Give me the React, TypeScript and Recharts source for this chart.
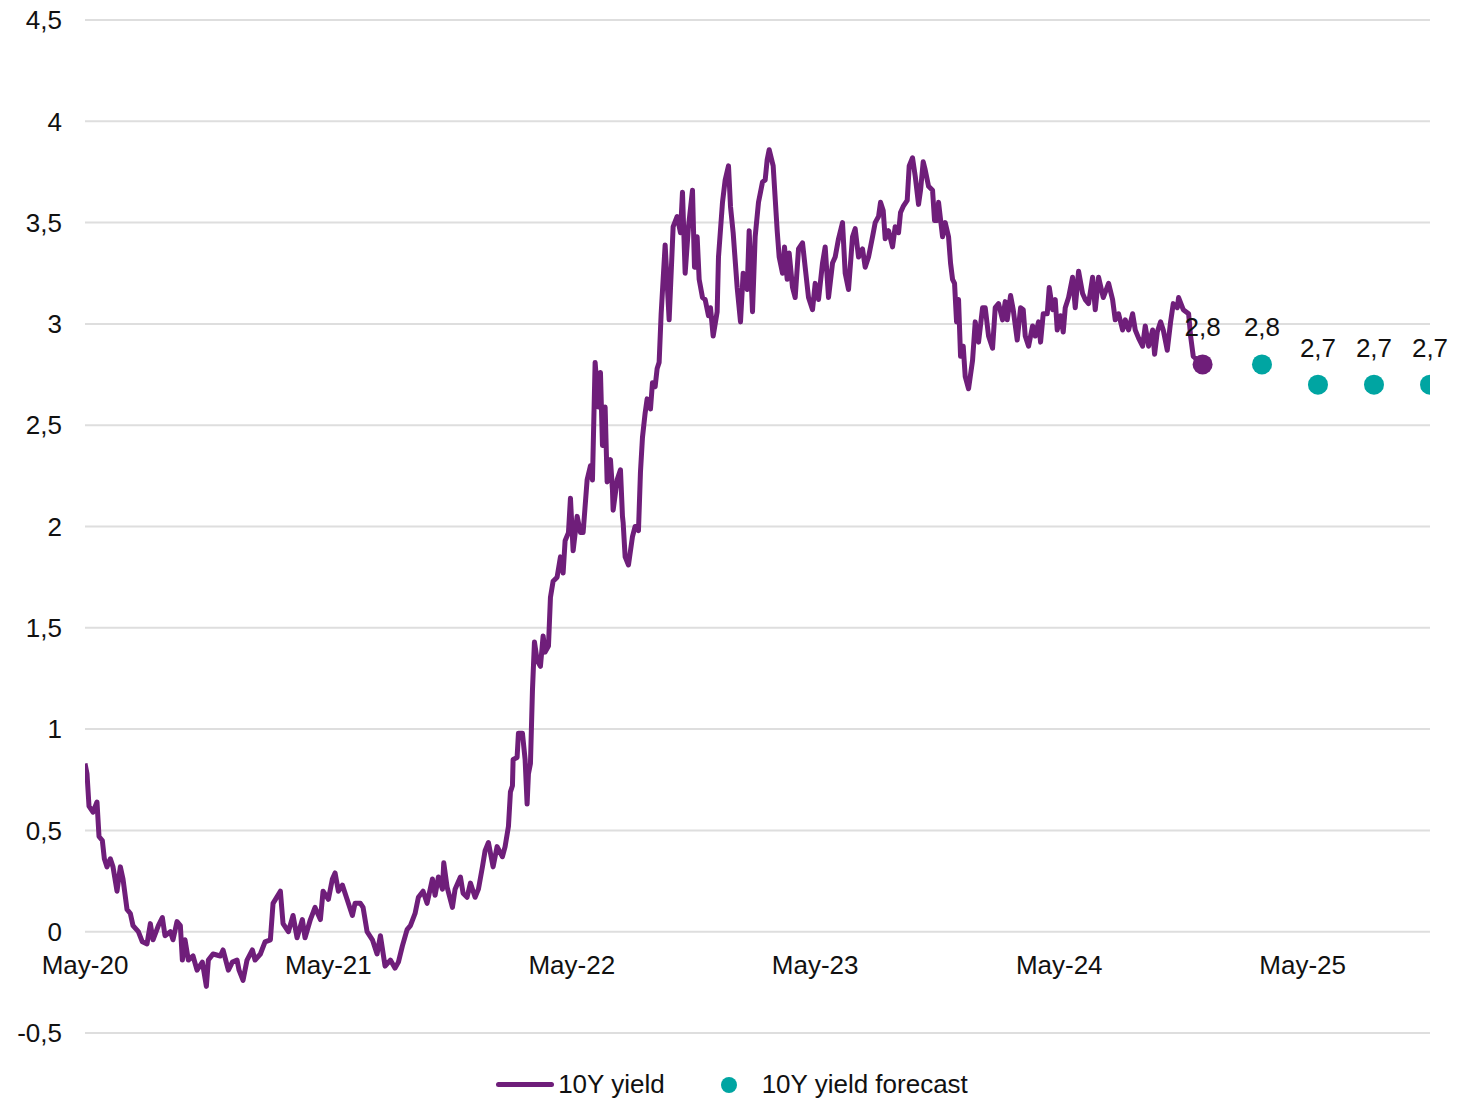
import { LineChart, Line, XAxis, YAxis, CartesianGrid, Legend } from "recharts";

document.body.style.margin = "0";

// [days since 1 May 2020, 10Y yield %]
const yieldHistory: [number, number][] = [
  [0, 0.83], [3, 0.78], [6, 0.62], [12, 0.59], [18, 0.64], [21, 0.47], [26, 0.45], [29, 0.36],
  [33, 0.32], [38, 0.36], [42, 0.32], [48, 0.2], [53, 0.32], [57, 0.26], [63, 0.11], [68, 0.09],
  [72, 0.03], [80, 0.0], [86, -0.05], [93, -0.06], [98, 0.04], [102, -0.04], [110, 0.03], [116, 0.07],
  [120, -0.02], [128, 0.0], [132, -0.04], [138, 0.05], [143, 0.03], [146, -0.14], [150, -0.04], [155, -0.14],
  [162, -0.12], [168, -0.19], [176, -0.15], [182, -0.27], [185, -0.14], [192, -0.11], [203, -0.12], [207, -0.09],
  [215, -0.19], [221, -0.15], [228, -0.14], [231, -0.19], [237, -0.24], [243, -0.14], [251, -0.09], [255, -0.14],
  [263, -0.11], [270, -0.05], [278, -0.04], [282, 0.14], [293, 0.2], [297, 0.04], [305, 0.0], [312, 0.08],
  [318, -0.03], [326, 0.06], [330, -0.03], [338, 0.06], [345, 0.12], [353, 0.06], [357, 0.2], [365, 0.16],
  [371, 0.26], [375, 0.29], [380, 0.2], [386, 0.23], [393, 0.16], [401, 0.08], [405, 0.14], [413, 0.14],
  [417, 0.12], [423, 0.0], [431, -0.04], [438, -0.11], [443, -0.02], [450, -0.17], [458, -0.14], [465, -0.18],
  [470, -0.15], [476, -0.07], [483, 0.01], [488, 0.03], [495, 0.09], [500, 0.17], [507, 0.2], [513, 0.14],
  [521, 0.26], [525, 0.18], [530, 0.27], [536, 0.21], [538, 0.34], [543, 0.22], [551, 0.12], [555, 0.21],
  [563, 0.27], [567, 0.19], [573, 0.17], [578, 0.24], [585, 0.17], [590, 0.21], [596, 0.32], [600, 0.4],
  [605, 0.44], [612, 0.32], [618, 0.42], [626, 0.37], [630, 0.42], [635, 0.52], [638, 0.69], [641, 0.72],
  [642, 0.85], [648, 0.86], [650, 0.98], [656, 0.98], [660, 0.85], [663, 0.63], [665, 0.78], [668, 0.83],
  [671, 1.19], [674, 1.43], [678, 1.34], [683, 1.31], [687, 1.46], [690, 1.38], [695, 1.41], [698, 1.65],
  [702, 1.73], [708, 1.75], [713, 1.85], [717, 1.77], [720, 1.93], [725, 1.97], [728, 2.14], [732, 1.88],
  [738, 2.05], [743, 1.97], [747, 1.97], [753, 2.23], [758, 2.3], [761, 2.23], [765, 2.81], [770, 2.59],
  [773, 2.76], [776, 2.4], [780, 2.59], [783, 2.22], [788, 2.33], [791, 2.18], [792, 2.08], [798, 2.23],
  [803, 2.28], [806, 2.05], [807, 2.02], [810, 1.85], [815, 1.81], [821, 1.95], [825, 2.0], [830, 1.98],
  [833, 2.27], [836, 2.44], [840, 2.56], [843, 2.63], [848, 2.58], [851, 2.71], [855, 2.69], [858, 2.78],
  [861, 2.81], [864, 3.05], [867, 3.22], [870, 3.39], [876, 3.02], [882, 3.48], [888, 3.53], [893, 3.45],
  [896, 3.65], [900, 3.25], [905, 3.48], [911, 3.66], [914, 3.28], [918, 3.43], [921, 3.22], [926, 3.13],
  [930, 3.12], [935, 3.04], [938, 3.08], [942, 2.94], [948, 3.06], [950, 3.33], [956, 3.6], [960, 3.71],
  [965, 3.78], [968, 3.58], [972, 3.45], [978, 3.18], [983, 3.01], [987, 3.25], [993, 3.17], [996, 3.46],
  [1001, 3.06], [1005, 3.43], [1010, 3.6], [1016, 3.7], [1020, 3.71], [1023, 3.81], [1026, 3.86], [1032, 3.78],
  [1038, 3.46], [1041, 3.33], [1046, 3.25], [1049, 3.38], [1053, 3.22], [1056, 3.35], [1061, 3.18], [1065, 3.13],
  [1070, 3.37], [1076, 3.4], [1080, 3.28], [1085, 3.13], [1091, 3.07], [1095, 3.2], [1100, 3.12], [1106, 3.3],
  [1110, 3.38], [1115, 3.13], [1121, 3.3], [1125, 3.33], [1130, 3.42], [1136, 3.5], [1140, 3.25], [1145, 3.17],
  [1151, 3.43], [1155, 3.47], [1160, 3.33], [1166, 3.37], [1170, 3.28], [1175, 3.33], [1181, 3.43], [1185, 3.5],
  [1190, 3.53], [1193, 3.6], [1197, 3.56], [1200, 3.42], [1205, 3.46], [1211, 3.38], [1215, 3.48], [1220, 3.45],
  [1223, 3.55], [1227, 3.58], [1233, 3.61], [1236, 3.78], [1241, 3.82], [1245, 3.73], [1250, 3.59], [1253, 3.66],
  [1257, 3.8], [1260, 3.76], [1265, 3.68], [1271, 3.66], [1274, 3.51], [1278, 3.51], [1280, 3.6], [1286, 3.43],
  [1290, 3.5], [1295, 3.43], [1298, 3.3], [1301, 3.22], [1304, 3.2], [1307, 3.01], [1310, 3.12], [1313, 2.84],
  [1317, 2.89], [1320, 2.74], [1325, 2.68], [1331, 2.82], [1335, 3.01], [1340, 2.91], [1346, 3.08], [1350, 3.08],
  [1355, 2.94], [1361, 2.88], [1365, 3.08], [1370, 3.1], [1376, 3.02], [1380, 3.11], [1383, 3.02], [1388, 3.14],
  [1392, 3.07], [1398, 2.92], [1403, 3.08], [1407, 3.07], [1410, 2.94], [1415, 2.89], [1421, 2.99], [1425, 2.94],
  [1430, 3.01], [1433, 2.91], [1437, 3.05], [1443, 3.05], [1446, 3.18], [1451, 3.07], [1455, 3.12], [1458, 2.97],
  [1463, 3.04], [1467, 2.96], [1470, 3.08], [1475, 3.13], [1481, 3.23], [1485, 3.08], [1490, 3.26], [1496, 3.15],
  [1500, 3.12], [1505, 3.1], [1511, 3.23], [1515, 3.07], [1520, 3.23], [1527, 3.13], [1535, 3.2], [1541, 3.12],
  [1545, 3.02], [1550, 3.05], [1556, 2.97], [1560, 3.02], [1565, 2.97], [1571, 3.05], [1575, 2.97], [1580, 2.93],
  [1586, 2.89], [1590, 2.99], [1595, 2.89], [1601, 2.97], [1604, 2.85], [1608, 2.96], [1613, 3.01], [1617, 2.97],
  [1623, 2.87], [1628, 3.01], [1632, 3.1], [1638, 3.08], [1640, 3.13], [1647, 3.07], [1655, 3.05], [1658, 2.94],
  [1662, 2.84], [1676, 2.8],
];

const forecastDays = [1765, 1849, 1933, 2017];
const forecastValues = [2.8, 2.7, 2.7, 2.7];

const xTickDays = [0, 365, 730, 1095, 1461, 1826];
const xTickLabels = ["May-20", "May-21", "May-22", "May-23", "May-24", "May-25"];
const yTicks = [-0.5, 0, 0.5, 1, 1.5, 2, 2.5, 3, 3.5, 4, 4.5];

const PURPLE = "#6f1e7a";
const TEAL = "#00a5a2";
const FONT = "'Liberation Sans', Arial, sans-serif";
const FS = 26;

const W = 1473;
const H = 1098;
const MARGIN = { top: 20, right: 43, bottom: 0, left: 0 };
const XAXIS_H = 30;
const LEGEND_H = 35;
const Y_MIN = -0.5;
const Y_MAX = 4.5;
const plotBottom = H - MARGIN.bottom - XAXIS_H - LEGEND_H;
const yZero = MARGIN.top + ((plotBottom - MARGIN.top) * Y_MAX) / (Y_MAX - Y_MIN);

const histData = yieldHistory.map(([day, value]) => ({ day, value }));
const forecastData = forecastDays.map((day, i) => ({ day, value: forecastValues[i] }));

const fmt = (v: number) => String(v).replace(".", ",");

const XTick = (props: any) => {
  const { x, payload } = props;
  const i = xTickDays.indexOf(payload.value);
  return (
    <text x={x} y={yZero + 42} textAnchor="middle" fontSize={FS} fontFamily={FONT} fill="#111">
      {xTickLabels[i]}
    </text>
  );
};

const valueLabel = (props: any) => (
  <text
    x={props.x}
    y={props.y - 28}
    textAnchor="middle"
    fontSize={FS}
    fontFamily={FONT}
    fill="#111"
  >
    {fmt(props.value)}
  </text>
);

const lastIdx = histData.length - 1;

const LegendBox = () => (
  <div
    style={{
      height: LEGEND_H,
      boxSizing: "border-box",
      paddingTop: 8,
      paddingLeft: 34,
      display: "flex",
      justifyContent: "center",
      alignItems: "center",
      fontFamily: FONT,
      fontSize: FS,
      color: "#111",
    }}
  >
    <span style={{ width: 58, height: 5, borderRadius: 3, background: PURPLE, marginRight: 4 }} />
    <span style={{ marginRight: 56 }}>10Y yield</span>
    <span style={{ width: 16, height: 16, borderRadius: "50%", background: TEAL, marginRight: 25 }} />
    <span>10Y yield forecast</span>
  </div>
);

export default function App() {
  return (
    <LineChart width={W} height={H} margin={MARGIN}>
      <CartesianGrid vertical={false} stroke="#dedede" strokeWidth={2} />
      <XAxis
        type="number"
        dataKey="day"
        domain={[0, forecastDays[forecastDays.length - 1]]}
        ticks={xTickDays}
        axisLine={false}
        tickLine={false}
        height={XAXIS_H}
        tick={<XTick />}
        allowDataOverflow
      />
      <YAxis
        domain={[Y_MIN, Y_MAX]}
        ticks={yTicks}
        tickFormatter={fmt}
        axisLine={false}
        tickLine={false}
        tickSize={0}
        tickMargin={23}
        width={85}
        tick={{ fontSize: FS, fontFamily: FONT, fill: "#111" }}
      />
      <Legend verticalAlign="bottom" content={() => <LegendBox />} />
      <Line
        data={histData}
        dataKey="value"
        name="10Y yield"
        type="linear"
        stroke={PURPLE}
        strokeWidth={5}
        strokeLinejoin="round"
        isAnimationActive={false}
        dot={(p: any) =>
          p.index === lastIdx ? (
            <circle key="end" cx={p.cx} cy={p.cy} r={10} fill={PURPLE} />
          ) : (
            <g key={p.index} />
          )
        }
        label={(p: any) => (p.index === lastIdx ? <g key="endlbl">{valueLabel(p)}</g> : <g key={"l" + p.index} />)}
      />
      <Line
        data={forecastData}
        dataKey="value"
        name="10Y yield forecast"
        stroke="none"
        isAnimationActive={false}
        dot={(p: any) => <circle key={p.index} cx={p.cx} cy={p.cy} r={10} fill={TEAL} />}
        label={(p: any) => <g key={"f" + p.index}>{valueLabel(p)}</g>}
      />
    </LineChart>
  );
}
